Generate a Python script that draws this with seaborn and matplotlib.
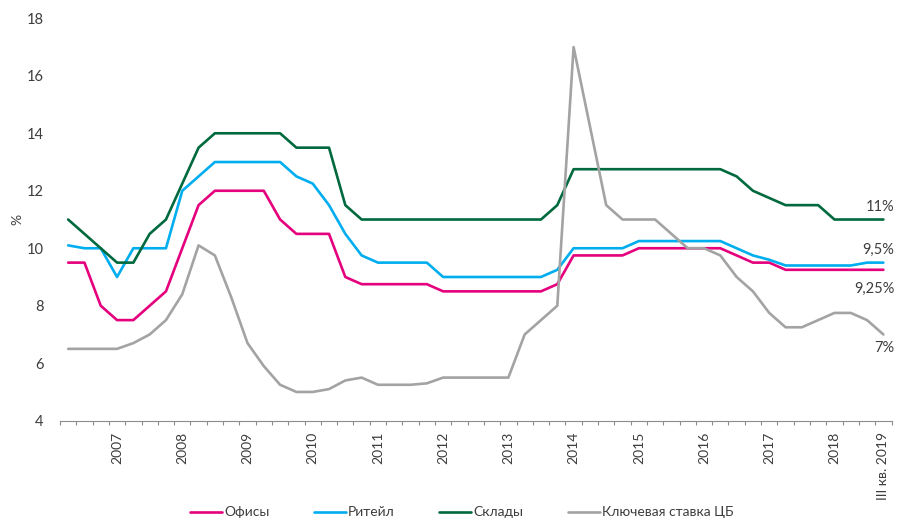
import numpy as np
import pandas as pd
import matplotlib
matplotlib.use("Agg")
import matplotlib.pyplot as plt
import seaborn as sns

# Quarterly yields, I кв. 2007 ... III кв. 2019 (51 quarters)
offices = [9.5, 9.5, 8.0, 7.5, 7.5, 8.0, 8.5, 10.0, 11.5, 12.0,
           12.0, 12.0, 12.0, 11.0, 10.5, 10.5, 10.5, 9.0, 8.75, 8.75,
           8.75, 8.75, 8.75, 8.5, 8.5, 8.5, 8.5, 8.5, 8.5, 8.5,
           8.75, 9.75, 9.75, 9.75, 9.75, 10.0, 10.0, 10.0, 10.0, 10.0,
           10.0, 9.75, 9.5, 9.5, 9.25, 9.25, 9.25, 9.25, 9.25, 9.25,
           9.25]
retail = [10.1, 10.0, 10.0, 9.0, 10.0, 10.0, 10.0, 12.0, 12.5, 13.0,
          13.0, 13.0, 13.0, 13.0, 12.5, 12.25, 11.5, 10.5, 9.75, 9.5,
          9.5, 9.5, 9.5, 9.0, 9.0, 9.0, 9.0, 9.0, 9.0, 9.0,
          9.25, 10.0, 10.0, 10.0, 10.0, 10.25, 10.25, 10.25, 10.25, 10.25,
          10.25, 10.0, 9.75, 9.6, 9.4, 9.4, 9.4, 9.4, 9.4, 9.5,
          9.5]
warehouses = [11.0, 10.5, 10.0, 9.5, 9.5, 10.5, 11.0, 12.25, 13.5, 14.0,
              14.0, 14.0, 14.0, 14.0, 13.5, 13.5, 13.5, 11.5, 11.0, 11.0,
              11.0, 11.0, 11.0, 11.0, 11.0, 11.0, 11.0, 11.0, 11.0, 11.0,
              11.5, 12.75, 12.75, 12.75, 12.75, 12.75, 12.75, 12.75, 12.75, 12.75,
              12.75, 12.5, 12.0, 11.75, 11.5, 11.5, 11.5, 11.0, 11.0, 11.0,
              11.0]
key_rate = [6.5, 6.5, 6.5, 6.5, 6.7, 7.0, 7.5, 8.4, 10.1, 9.75,
            8.3, 6.7, 5.9, 5.25, 5.0, 5.0, 5.1, 5.4, 5.5, 5.25,
            5.25, 5.25, 5.3, 5.5, 5.5, 5.5, 5.5, 5.5, 7.0, 7.5,
            8.0, 17.0, 14.25, 11.5, 11.0, 11.0, 11.0, 10.5, 10.0, 10.0,
            9.75, 9.0, 8.5, 7.75, 7.25, 7.25, 7.5, 7.75, 7.75, 7.5,
            7.0]

series_names = ["Офисы", "Ритейл", "Склады", "Ключевая ставка ЦБ"]
series_colors = ["#E5007D", "#00AEEF", "#00693E", "#A3A3A3"]

year_labels = ["2007", "2008", "2009", "2010", "2011", "2012", "2013",
               "2014", "2015", "2016", "2017", "2018", "III кв. 2019"]
year_label_quarters = [3, 7, 11, 15, 19, 23, 27, 31, 35, 39, 43, 47, 50]

n_quarters = len(offices)
quarter = np.arange(n_quarters)
frames = []
for name, vals in zip(series_names, [offices, retail, warehouses, key_rate]):
    frames.append(pd.DataFrame({"quarter": quarter, "value": vals, "series": name}))
df = pd.concat(frames, ignore_index=True)

sns.set_theme(style="white")
plt.rcParams["font.family"] = ["Lato", "DejaVu Sans"]
text_color = "#3d3d3d"

fig = plt.figure(figsize=(9.02, 5.19), dpi=100)
ax = fig.add_axes([0.0665, 0.1894, 0.9219, 0.7753])

sns.lineplot(data=df, x="quarter", y="value", hue="series",
             hue_order=series_names, palette=series_colors,
             linewidth=1.9, ax=ax, solid_joinstyle="round")

ax.set_xlim(-0.5, n_quarters - 0.5)
ax.set_ylim(4, 18)
ax.set_yticks(np.arange(4, 19, 2))
ax.set_xticks(year_label_quarters)
ax.set_xticklabels(year_labels, rotation=90, fontsize=10, color=text_color)
ax.set_xticks(np.arange(-0.5, n_quarters, 1), minor=True)
ax.tick_params(axis="x", which="major", length=0, pad=8)
ax.tick_params(axis="x", which="minor", length=3, width=0.8,
               color="#8c8c8c", direction="out", bottom=True)
ax.tick_params(axis="y", length=0, pad=12, labelsize=10.5, labelcolor=text_color)

for side in ["left", "right", "top"]:
    ax.spines[side].set_visible(False)
ax.spines["bottom"].set_color("#8c8c8c")
ax.spines["bottom"].set_linewidth(0.8)

ax.set_xlabel("")
ax.set_ylabel("%", fontsize=10, color=text_color)
ax.yaxis.set_label_coords(-0.044, 0.5)

# End-of-period value labels
last = n_quarters - 1
offsets = {"Склады": 9, "Ритейл": 9.5, "Офисы": -14, "Ключевая ставка ЦБ": -10}
for name, vals in zip(series_names, [offices, retail, warehouses, key_rate]):
    v = vals[last]
    txt = f"{v:g}".replace(".", ",") + "%"
    ax.annotate(txt, xy=(last, v), xytext=(8, offsets[name]),
                textcoords="offset points", ha="right", va="center",
                fontsize=10.5, color=text_color)

sns.move_legend(ax, "center", bbox_to_anchor=(0.483, -0.228), ncol=4,
                frameon=False, title=None, fontsize=10,
                handlelength=2.3, handletextpad=0.15, columnspacing=3.2)
for t in ax.get_legend().get_texts():
    t.set_color(text_color)

fig.savefig("out.png", dpi=100, facecolor="white")
